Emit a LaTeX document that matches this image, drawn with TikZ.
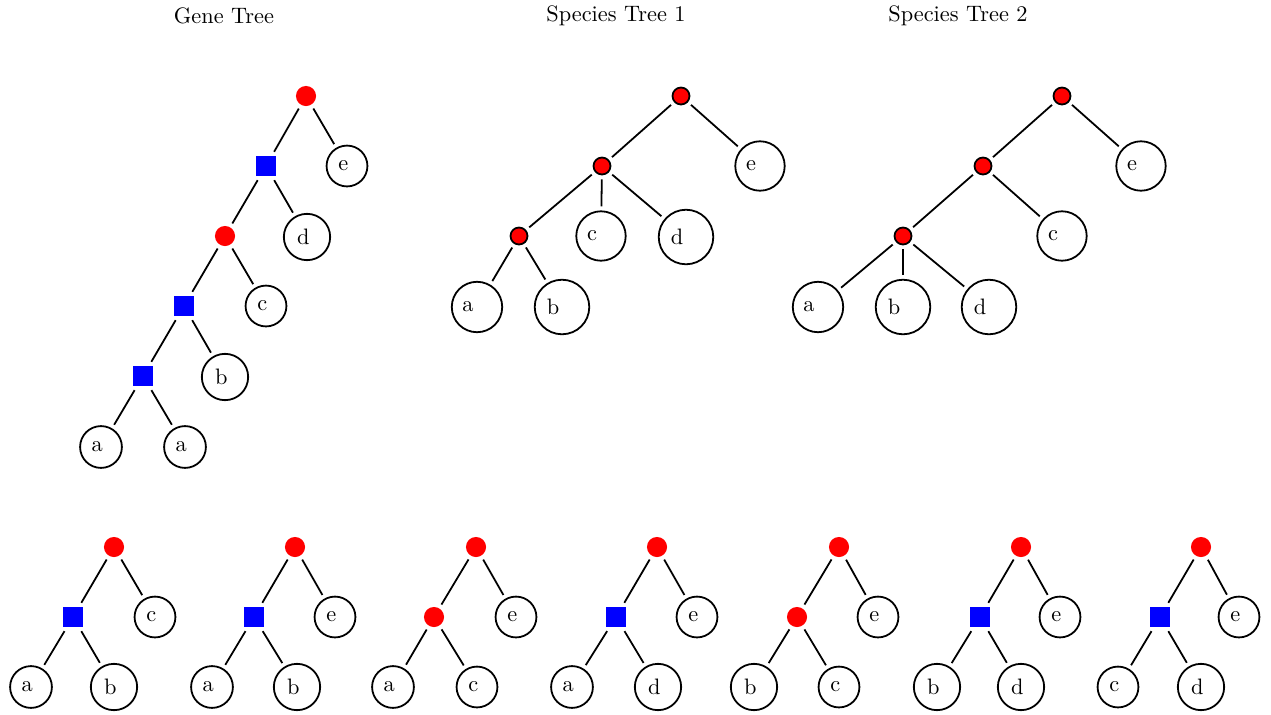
\documentclass[tikz,border=0pt]{standalone}
\newcommand{\gsp}{\rule{3.33pt}{0pt}}
\newcommand{\ssp}{\rule{8pt}{0pt}}
\begin{document}
\begin{tikzpicture}[x=0.015736cm,y=-0.015736cm,
  gred/.style={circle,fill=red,inner sep=0pt,minimum size=9pt},
  sred/.style={circle,fill=red,draw=black,line width=0.8pt,inner sep=0pt,minimum size=7.6pt},
  dup/.style={rectangle,fill=blue,inner sep=0pt,minimum size=9.2pt},
  leaf/.style={circle,draw=black,line width=0.8pt,inner sep=3.33pt},
  edge/.style={line width=0.8pt,shorten >=1.8pt,shorten <=1.8pt},
  title/.style={inner sep=0pt}]
\useasboundingbox (0,0) rectangle (1271,715);
% titles
\node[title] (t1) at (224,16) {Gene Tree};
\node[title] (t2) at (616,16) {Species Tree 1};
\node[title] (t3) at (958,16) {Species Tree 2};
% gene tree
\node[gred] (g1) at (306,96) {};
\node[dup] (g2) at (266,166) {};
\node[leaf] (ge) at (347,166) {e\gsp};
\node[gred] (g3) at (225,236) {};
\node[leaf] (gd) at (307,237) {d\gsp};
\node[dup] (g4) at (184,306) {};
\node[leaf] (gc) at (266,306) {c\gsp};
\node[dup] (g5) at (143,376) {};
\node[leaf] (gb) at (225,377) {b\gsp};
\node[leaf] (ga1) at (101,447) {a\gsp};
\node[leaf] (ga2) at (185,447) {a\gsp};
\draw[edge] (g1)--(g2); \draw[edge] (g1)--(ge);
\draw[edge] (g2)--(g3); \draw[edge] (g2)--(gd);
\draw[edge] (g3)--(g4); \draw[edge] (g3)--(gc);
\draw[edge] (g4)--(g5); \draw[edge] (g4)--(gb);
\draw[edge] (g5)--(ga1); \draw[edge] (g5)--(ga2);
% species tree 1
\node[sred] (s1) at (681,96) {};
\node[sred] (s2) at (602,166) {};
\node[leaf] (se) at (760,166) {e\ssp};
\node[sred] (s3) at (519,236) {};
\node[leaf] (sc) at (601,236) {c\ssp};
\node[leaf] (sd) at (686,237) {d\ssp};
\node[leaf] (sa) at (477,307) {a\ssp};
\node[leaf] (sb) at (562,307) {b\ssp};
\draw[edge] (s1)--(s2); \draw[edge] (s1)--(se);
\draw[edge] (s2)--(s3); \draw[edge] (s2)--(sc); \draw[edge] (s2)--(sd);
\draw[edge] (s3)--(sa); \draw[edge] (s3)--(sb);
% species tree 2
\node[sred] (r1) at (1062,96) {};
\node[sred] (r2) at (983,166) {};
\node[leaf] (re) at (1141,166) {e\ssp};
\node[sred] (r3) at (903,236) {};
\node[leaf] (rc) at (1062,236) {c\ssp};
\node[leaf] (ra) at (818,307) {a\ssp};
\node[leaf] (rb) at (903,307) {b\ssp};
\node[leaf] (rd) at (989,307) {d\ssp};
\draw[edge] (r1)--(r2); \draw[edge] (r1)--(re);
\draw[edge] (r2)--(r3); \draw[edge] (r2)--(rc);
\draw[edge] (r3)--(ra); \draw[edge] (r3)--(rb); \draw[edge] (r3)--(rd);
% bottom trees
% 1
\node[gred] (a1) at (114,547) {};
\node[dup] (a2) at (73,617) {};
\node[leaf] (a3) at (155,617) {c\gsp};
\node[leaf] (a4) at (31,687) {a\gsp};
\node[leaf] (a5) at (114,687) {b\gsp};
\draw[edge] (a1)--(a2); \draw[edge] (a1)--(a3); \draw[edge] (a2)--(a4); \draw[edge] (a2)--(a5);
% 2
\node[gred] (b1) at (295,547) {};
\node[dup] (b2) at (254,617) {};
\node[leaf] (b3) at (335,617) {e\gsp};
\node[leaf] (b4) at (212,687) {a\gsp};
\node[leaf] (b5) at (297,687) {b\gsp};
\draw[edge] (b1)--(b2); \draw[edge] (b1)--(b3); \draw[edge] (b2)--(b4); \draw[edge] (b2)--(b5);
% 3
\node[gred] (c1) at (476,547) {};
\node[gred] (c2) at (434,617) {};
\node[leaf] (c3) at (516,617) {e\gsp};
\node[leaf] (c4) at (393,687) {a\gsp};
\node[leaf] (c5) at (477,687) {c\gsp};
\draw[edge] (c1)--(c2); \draw[edge] (c1)--(c3); \draw[edge] (c2)--(c4); \draw[edge] (c2)--(c5);
% 4
\node[gred] (d1) at (657,547) {};
\node[dup] (d2) at (616,617) {};
\node[leaf] (d3) at (697,617) {e\gsp};
\node[leaf] (d4) at (572,687) {a\gsp};
\node[leaf] (d5) at (658,687) {d\gsp};
\draw[edge] (d1)--(d2); \draw[edge] (d1)--(d3); \draw[edge] (d2)--(d4); \draw[edge] (d2)--(d5);
% 5
\node[gred] (e1) at (839,547) {};
\node[gred] (e2) at (797,617) {};
\node[leaf] (e3) at (878,617) {e\gsp};
\node[leaf] (e4) at (754,687) {b\gsp};
\node[leaf] (e5) at (839,687) {c\gsp};
\draw[edge] (e1)--(e2); \draw[edge] (e1)--(e3); \draw[edge] (e2)--(e4); \draw[edge] (e2)--(e5);
% 6
\node[gred] (f1) at (1021,547) {};
\node[dup] (f2) at (980,617) {};
\node[leaf] (f3) at (1060,617) {e\gsp};
\node[leaf] (f4) at (937,687) {b\gsp};
\node[leaf] (f5) at (1021,687) {d\gsp};
\draw[edge] (f1)--(f2); \draw[edge] (f1)--(f3); \draw[edge] (f2)--(f4); \draw[edge] (f2)--(f5);
% 7
\node[gred] (h1) at (1201,547) {};
\node[dup] (h2) at (1160,617) {};
\node[leaf] (h3) at (1239,617) {e\gsp};
\node[leaf] (h4) at (1118,687) {c\gsp};
\node[leaf] (h5) at (1201,687) {d\gsp};
\draw[edge] (h1)--(h2); \draw[edge] (h1)--(h3); \draw[edge] (h2)--(h4); \draw[edge] (h2)--(h5);
\end{tikzpicture}
\end{document}
